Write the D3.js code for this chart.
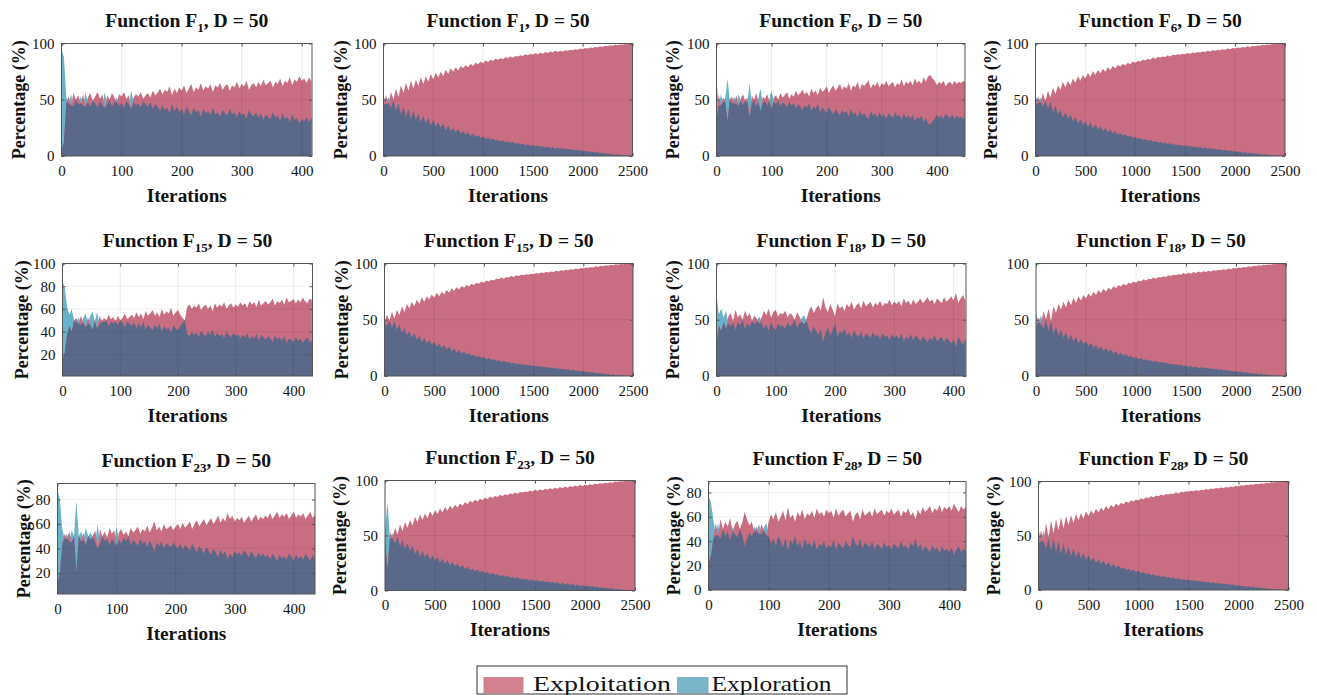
<!DOCTYPE html>
<html>
<head>
<meta charset="utf-8">
<script src="https://cdn.jsdelivr.net/npm/d3@7/dist/d3.min.js"></script>
<style>
body { margin: 0; background: #fff; }
text { font-family: "Liberation Serif", "Times New Roman", serif; fill: #111; }
</style>
</head>
<body>
<script>
/* exploration / exploitation percentage panels */
var width = 1317;
var height = 695;

// iterations between two stored samples
var stepShort = 4;
var stepLong = 25;

// exploration (%) per sample; exploitation is 100 - exploration
var explF1 = [95, 88, 52, 47, 55, 44, 50, 46, 53, 45,
  56, 48, 44, 51, 47, 43, 49, 45, 57, 46,
  50, 44, 48, 52, 45, 47, 43, 49, 46, 58,
  48, 45, 47, 43, 49, 46, 44, 48, 42, 46,
  44, 40, 45, 41, 43, 38, 46, 40, 44, 39,
  42, 37, 44, 40, 36, 43, 39, 41, 35, 42,
  38, 40, 36, 43, 37, 39, 35, 41, 38, 36,
  42, 37, 39, 34, 40, 36, 38, 33, 41, 37,
  35, 39, 34, 38, 32, 37, 35, 33, 39, 34,
  36, 31, 38, 33, 35, 30, 37, 32, 34, 29,
  33, 31, 35, 30, 34];

var explF1Long = [54, 46, 53, 43, 50, 40, 47, 37, 44, 35,
  42, 33, 40, 32, 38, 30, 36, 29, 34, 27,
  32, 26, 30, 25, 29, 23, 27, 22, 25, 21,
  24, 20, 22, 19, 21, 18, 20, 17, 18.5, 16,
  17.5, 15, 16.5, 14.5, 15.5, 13.5, 14.5, 13, 14, 12,
  13, 11.5, 12.5, 11, 11.5, 10.5, 11, 9.5, 10.5, 9,
  10, 8.5, 9.5, 8, 9, 7.5, 8.5, 7, 8, 6.5,
  7.5, 6.5, 7, 6, 6.5, 5.5, 6, 5, 5.5, 4.5,
  5, 4, 4.5, 3.5, 4, 3, 3.5, 2.5, 3, 2,
  2.5, 1.5, 2, 1, 1.5, 0.8, 1, 0.5, 0.6, 0.2, 0];

var explF6 = [68, 45, 55, 48, 52, 69, 50, 47, 53, 46,
  55, 49, 45, 51, 48, 65, 46, 50, 44, 52,
  60, 47, 49, 45, 51, 58, 48, 46, 50, 44,
  48, 46, 43, 49, 45, 47, 42, 46, 44, 41,
  45, 43, 47, 40, 44, 42, 46, 39, 43, 41,
  38, 44, 40, 37, 42, 39, 36, 41, 38, 40,
  35, 42, 37, 39, 34, 41, 36, 38, 35, 33,
  40, 36, 38, 34, 39, 35, 37, 33, 38, 36,
  34, 39, 35, 37, 32, 38, 34, 36, 33, 37,
  31, 35, 33, 36, 30, 34, 29, 28, 31, 33,
  37, 34, 36, 33, 38, 35, 34, 37, 33, 36,
  34, 35, 33, 35];

var explF6Long = [55, 47, 52, 44, 51, 42, 48, 39, 45, 37,
  41, 34, 39, 33, 37, 31, 35, 29, 33, 28,
  31, 26, 30, 24.5, 28, 23.5, 26.5, 22.5, 25, 21,
  23.5, 20, 22, 19, 20.5, 18, 19.5, 17, 18.5, 16,
  17, 15.5, 16, 14.5, 15, 13.5, 14.5, 12.5, 13.5, 12,
  12.5, 11.5, 12, 10.5, 11.5, 10, 10.5, 9.5, 10, 9,
  9.5, 8.5, 9, 8, 8.5, 7.5, 8, 7, 7.5, 6.5,
  7, 6, 6.5, 5.5, 6, 5, 5.5, 4.5, 5, 4,
  4.5, 3.5, 4, 3, 3.5, 2.5, 3, 2, 2.5, 1.8,
  2, 1.2, 1.5, 0.8, 1, 0.5, 0.7, 0.3, 0.4, 0.1, 0];

var explF15 = [85, 78, 62, 55, 60, 50, 48, 53, 46, 52,
  56, 47, 54, 58, 49, 57, 46, 51, 48, 50,
  45, 49, 47, 51, 46, 50, 48, 44, 49, 47,
  45, 48, 43, 47, 44, 49, 42, 46, 44, 41,
  46, 43, 47, 40, 45, 42, 44, 39, 46, 43,
  41, 45, 48, 50, 38, 36, 40, 37, 39, 35,
  41, 38, 36, 40, 37, 42, 35, 39, 36, 38,
  34, 40, 37, 35, 39, 36, 38, 34, 37, 35,
  39, 33, 36, 34, 38, 32, 37, 35, 33, 36,
  34, 31, 37, 33, 35, 32, 36, 30, 34, 33,
  31, 35, 32, 34, 30, 33, 35, 31, 32];

var explF15Long = [53, 45, 51, 43, 49, 41, 46, 38, 43, 36,
  40, 34, 38, 32, 36, 30, 34, 29, 32, 27.5,
  30.5, 26, 29, 25, 27.5, 23.5, 26, 22, 24.5, 21,
  23, 20, 21.5, 19, 20.5, 18, 19, 17, 18, 16,
  17, 15, 16, 14.5, 15, 13.5, 14, 12.5, 13.5, 12,
  12.5, 11, 12, 10.5, 11, 10, 10.5, 9.5, 10, 9,
  9.5, 8.5, 9, 8, 8.5, 7.5, 8, 7, 7.5, 6.5,
  7, 6, 6.5, 5.5, 6, 5, 5.5, 4.5, 5, 4,
  4.5, 3.5, 4, 3, 3.5, 2.5, 3, 2, 2.5, 1.5,
  2, 1, 1.5, 0.7, 1, 0.5, 0.6, 0.3, 0.3, 0.1, 0];

var explF18 = [72, 55, 60, 52, 58, 47, 44, 52, 41, 48,
  45, 50, 42, 47, 44, 51, 46, 49, 53, 48,
  42, 46, 40, 48, 43, 41, 47, 44, 45, 42,
  48, 44, 46, 50, 43, 47, 52, 54, 49, 42,
  38, 44, 40, 37, 42, 30, 39, 43, 36, 41,
  47, 35, 40, 38, 42, 36, 39, 34, 41, 37,
  35, 40, 33, 38, 36, 34, 39, 35, 37, 33,
  38, 35, 36, 32, 37, 34, 36, 33, 38, 31,
  35, 33, 37, 32, 36, 34, 31, 35, 33, 30,
  34, 32, 36, 31, 33, 35, 30, 34, 32, 29,
  33, 26, 35, 31, 28, 33];

var explF18Long = [56, 48, 54, 42, 50, 40, 51, 38, 44, 36,
  41, 34, 39, 32, 37, 30.5, 35, 29, 33, 28,
  31, 26.5, 29.5, 25, 28, 23.5, 26.5, 22.5, 25, 21.5,
  23.5, 20, 22, 19, 20.5, 18, 19.5, 17, 18, 16,
  17, 15, 16, 14, 15, 13.5, 14, 12.5, 13.5, 12,
  12.5, 11.5, 12, 10.5, 11, 10, 10.5, 9.5, 10, 8.5,
  9.5, 8, 9, 7.5, 8.5, 7, 8, 6.8, 7.5, 6.5,
  7, 6, 6.5, 5.5, 6, 5, 5.5, 4.5, 5, 4,
  4.5, 3.5, 4, 3, 3.5, 2.5, 3, 2, 2.4, 1.6,
  1.9, 1.1, 1.4, 0.8, 1, 0.5, 0.6, 0.3, 0.3, 0.1, 0];

var explF23 = [88, 80, 56, 48, 52, 46, 55, 50, 79, 50,
  54, 47, 57, 50, 53, 49, 45, 60, 44, 50,
  46, 52, 43, 48, 45, 58, 47, 44, 49, 46,
  50, 43, 47, 45, 42, 48, 44, 46, 41, 47,
  43, 38, 45, 42, 46, 40, 44, 43, 41, 45,
  42, 40, 44, 39, 43, 41, 38, 44, 40, 37,
  42, 39, 36, 41, 38, 35, 40, 37, 33, 39,
  35, 38, 31, 36, 33, 38, 35, 37, 34, 39,
  36, 33, 38, 35, 32, 37, 34, 36, 33, 35,
  31, 36, 33, 30, 35, 32, 34, 31, 36, 33,
  30, 35, 32, 34, 31, 36, 33, 30, 35, 32];

var explF23Long = [55, 80, 47, 52, 43, 49, 40, 46, 38, 43,
  36, 41, 33, 38, 31, 36, 30, 34, 28, 32,
  27, 30.5, 25.5, 29, 24, 27.5, 23, 26, 22, 24.5,
  21, 23, 19.5, 21.5, 18.5, 20, 17.5, 19, 16.5, 18,
  15.5, 17, 14.5, 16, 14, 15, 13, 14, 12.5, 13.5,
  11.5, 12.5, 11, 12, 10.5, 11, 10, 10.5, 9, 10,
  8.5, 9.5, 8, 9, 7.5, 8.5, 7, 8, 6.5, 7.5,
  6, 7, 5.5, 6.5, 5, 6, 4.5, 5.5, 4.2, 5,
  3.8, 4.5, 3.4, 4, 3, 3.5, 2.5, 3, 2, 2.5,
  1.5, 2, 1, 1.4, 0.7, 1, 0.4, 0.6, 0.2, 0.3, 0];

var explF28 = [78, 72, 58, 45, 55, 42, 50, 44, 48, 41,
  52, 46, 43, 50, 45, 36, 42, 47, 44, 52,
  48, 54, 46, 51, 55, 44, 38, 42, 36, 44,
  40, 35, 43, 32, 41, 38, 44, 36, 40, 34,
  42, 37, 39, 35, 41, 33, 38, 36, 40, 34,
  37, 35, 41, 33, 39, 36, 34, 40, 37, 35,
  44, 38, 36, 42, 34, 39, 37, 35, 40, 33,
  38, 36, 34, 39, 35, 37, 33, 38, 36, 34,
  40, 35, 37, 33, 39, 36, 42, 34, 38, 32,
  36, 34, 31, 37, 33, 35, 30, 36, 32, 34,
  31, 35, 29, 33, 36, 31, 34, 32];

var explF28Long = [57, 45, 55, 38, 52, 36, 48, 35, 45, 33,
  43, 32, 40, 31, 38, 30, 36, 29, 34, 27.5,
  32, 26.5, 30, 25, 28.5, 24, 27, 22.5, 25.5, 21.5,
  24, 20.5, 22.5, 19.5, 21, 18.5, 19.5, 17.5, 18.5, 16.5,
  17.5, 15.5, 16.5, 14.5, 15.5, 13.5, 14.5, 13, 13.5, 12,
  13, 11.5, 12, 11, 11.5, 10, 11, 9.5, 10, 9,
  9.5, 8.5, 9, 8, 8.5, 7.5, 8, 7, 7.5, 6.5,
  7, 6, 6.5, 5.5, 6, 5, 5.5, 4.5, 5, 4,
  4.5, 3.5, 4, 3, 3.5, 2.5, 3, 2, 2.5, 1.5,
  2, 1.2, 1.5, 0.8, 1, 0.5, 0.6, 0.3, 0.3, 0.1, 0];

// tick labels
var xTicksShort = [0, 100, 200, 300, 400];
var xTicksLong = [0, 500, 1000, 1500, 2000, 2500];
var yTicksHalf = [0, 50, 100];
var yTicksF15 = [20, 40, 60, 80, 100];
var yTicksF23 = [20, 40, 60, 80];
var yTicksF28 = [0, 20, 40, 60, 80];

var legendLabels = ["Exploitation", "Exploration"];

// one entry per panel, row by row
var series = [
  {fn: "1",  values: explF1,      step: stepShort, xMax: 417,  yDomain: [0, 100], xTicks: xTicksShort, yTicks: yTicksHalf},
  {fn: "1",  values: explF1Long,  step: stepLong,  xMax: 2500, yDomain: [0, 100], xTicks: xTicksLong,  yTicks: yTicksHalf},
  {fn: "6",  values: explF6,      step: stepShort, xMax: 451,  yDomain: [0, 100], xTicks: xTicksShort, yTicks: yTicksHalf},
  {fn: "6",  values: explF6Long,  step: stepLong,  xMax: 2500, yDomain: [0, 100], xTicks: xTicksLong,  yTicks: yTicksHalf},
  {fn: "15", values: explF15,     step: stepShort, xMax: 433,  yDomain: [1, 100], xTicks: xTicksShort, yTicks: yTicksF15},
  {fn: "15", values: explF15Long, step: stepLong,  xMax: 2500, yDomain: [0, 100], xTicks: xTicksLong,  yTicks: yTicksHalf},
  {fn: "18", values: explF18,     step: stepShort, xMax: 421,  yDomain: [0, 100], xTicks: xTicksShort, yTicks: yTicksHalf},
  {fn: "18", values: explF18Long, step: stepLong,  xMax: 2500, yDomain: [0, 100], xTicks: xTicksLong,  yTicks: yTicksHalf},
  {fn: "23", values: explF23,     step: stepShort, xMax: 436,  yDomain: [3, 93],  xTicks: xTicksShort, yTicks: yTicksF23},
  {fn: "23", values: explF23Long, step: stepLong,  xMax: 2500, yDomain: [0, 100], xTicks: xTicksLong,  yTicks: yTicksHalf},
  {fn: "28", values: explF28,     step: stepShort, xMax: 428,  yDomain: [0, 89],  xTicks: xTicksShort, yTicks: yTicksF28},
  {fn: "28", values: explF28Long, step: stepLong,  xMax: 2500, yDomain: [0, 100], xTicks: xTicksLong,  yTicks: yTicksHalf}
];

// plot boxes [left, top, right, bottom] and y label offset
var boxes = [
  [61.5, 43.5, 312, 156, 37], [383.5, 43.5, 632.5, 156, 37], [716.5, 43.5, 965, 156, 37.5], [1035.5, 43.5, 1285, 156, 39],
  [62.5, 263.5, 312.5, 376, 35], [384.5, 263.5, 633, 376, 37], [716.5, 263.5, 966, 376, 38], [1036, 263.5, 1286, 376, null],
  [57.5, 483.5, 315, 594, 28], [385, 480.5, 635, 590.5, 39], [708.5, 481.5, 966, 590, 29], [1038.5, 481.5, 1288.5, 590, 39]
];

var colExploit = "#c96d82";
var colExplore = "#68b3c9";
var colOverlap = "#5a6989";

var svg = d3.select("body").append("svg")
    .attr("width", width)
    .attr("height", height);

series.forEach(drawPanel);
drawLegend();

function drawPanel(s, i) {
  var b = boxes[i];
  var x = d3.scaleLinear().domain([0, s.xMax]).range([b[0], b[2]]);
  var y = d3.scaleLinear().domain(s.yDomain).range([b[3], b[1]]);

  var pts = s.values.map(function(v, k) {
    return {it: k * s.step, explore: v, exploit: 100 - v};
  });

  var g = svg.append("g");

  g.append("clipPath").attr("id", "clip" + i)
    .append("rect")
    .attr("x", b[0]).attr("y", b[1])
    .attr("width", b[2] - b[0]).attr("height", b[3] - b[1]);

  var plot = g.append("g").attr("clip-path", "url(#clip" + i + ")");

  function area(key) {
    return d3.area()
      .x(function(d) { return x(d.it); })
      .y0(y(0))
      .y1(function(d) { return y(key(d)); });
  }

  plot.append("path").datum(pts)
    .attr("fill", colExplore)
    .attr("d", area(function(d) { return d.explore; }));
  plot.append("path").datum(pts)
    .attr("fill", colExploit)
    .attr("d", area(function(d) { return d.exploit; }));
  plot.append("path").datum(pts)
    .attr("fill", colOverlap)
    .attr("d", area(function(d) { return Math.min(d.explore, d.exploit); }));

  // grid
  plot.selectAll(".gx").data(s.xTicks).enter().append("line")
    .attr("x1", x).attr("x2", x)
    .attr("y1", b[1]).attr("y2", b[3])
    .attr("stroke", "#000").attr("stroke-opacity", 0.08);
  plot.selectAll(".gy").data(s.yTicks).enter().append("line")
    .attr("x1", b[0]).attr("x2", b[2])
    .attr("y1", y).attr("y2", y)
    .attr("stroke", "#000").attr("stroke-opacity", 0.06);

  // axes, ticks pointing inwards
  var fmt = d3.format("d");
  g.append("g").attr("transform", "translate(0," + b[3] + ")")
    .call(d3.axisBottom(x).tickValues(s.xTicks).tickFormat(fmt).tickSizeInner(-3).tickSizeOuter(0).tickPadding(9));
  g.append("g").attr("transform", "translate(" + b[0] + ",0)")
    .call(d3.axisLeft(y).tickValues(s.yTicks).tickFormat(fmt).tickSizeInner(-3).tickSizeOuter(0).tickPadding(7));
  g.append("g").attr("transform", "translate(0," + b[1] + ")")
    .call(d3.axisTop(x).tickValues(s.xTicks).tickSizeInner(-3).tickSizeOuter(0).tickFormat(""));
  g.append("g").attr("transform", "translate(" + b[2] + ",0)")
    .call(d3.axisRight(y).tickValues(s.yTicks).tickSizeInner(-3).tickSizeOuter(0).tickFormat(""));

  g.selectAll(".domain").remove();
  g.selectAll(".tick line").attr("stroke", "#555");
  g.selectAll(".tick text")
    .style("font-family", "'Liberation Serif', serif")
    .style("font-size", "15px")
    .attr("fill", "#111");

  g.append("rect")
    .attr("x", b[0]).attr("y", b[1])
    .attr("width", b[2] - b[0]).attr("height", b[3] - b[1])
    .attr("fill", "none")
    .attr("stroke", "#555")
    .attr("stroke-width", 1);

  var cx = (b[0] + b[2]) / 2;

  // title with subscript
  var title = g.append("text")
    .attr("transform", "translate(" + cx + "," + (b[1] - 16.5) + ") scale(1.09,1)")
    .attr("text-anchor", "middle")
    .attr("font-weight", "bold")
    .attr("font-size", 18);
  title.append("tspan").text("Function F");
  title.append("tspan").attr("dy", 5).attr("font-size", 12).text(s.fn);
  title.append("tspan").attr("dy", -5).text(", D = 50");

  g.append("text")
    .attr("transform", "translate(" + cx + "," + (b[3] + 45.5) + ") scale(1.07,1)")
    .attr("text-anchor", "middle")
    .attr("font-weight", "bold")
    .attr("font-size", 18)
    .text("Iterations");

  if (b[4] != null) {
    g.append("text")
      .attr("transform", "translate(" + (b[0] - b[4]) + "," + ((b[1] + b[3]) / 2) + ") rotate(-90)")
      .attr("text-anchor", "middle")
      .attr("font-weight", "bold")
      .attr("font-size", 18)
      .text("Percentage (%)");
  }
}

function drawLegend() {
  var lg = svg.append("g");
  lg.append("rect")
    .attr("x", 477).attr("y", 666)
    .attr("width", 370).attr("height", 28)
    .attr("fill", "#fff").attr("stroke", "#333");
  lg.append("rect").attr("x", 483.5).attr("y", 677).attr("width", 40).attr("height", 16).attr("fill", "#d4818f");
  lg.append("text").attr("x", 533).attr("y", 691)
    .attr("font-size", 22)
    .attr("textLength", 138).attr("lengthAdjust", "spacingAndGlyphs")
    .text(legendLabels[0]);
  lg.append("rect").attr("x", 677).attr("y", 677).attr("width", 31.5).attr("height", 16).attr("fill", "#7ab4c8");
  lg.append("text").attr("x", 711.5).attr("y", 691)
    .attr("font-size", 22)
    .attr("textLength", 120).attr("lengthAdjust", "spacingAndGlyphs")
    .text(legendLabels[1]);
}
</script>
</body>
</html>
